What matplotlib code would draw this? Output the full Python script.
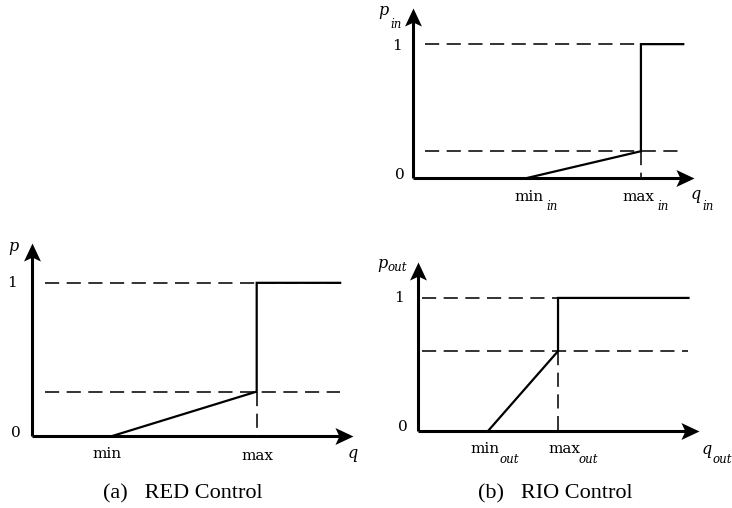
import numpy as np
import matplotlib
matplotlib.use('Agg')
from matplotlib import pyplot as plt
from matplotlib.path import Path

# RED drop curve: q thresholds and the drop probability reached at max
red_q = [2.5, 7.0, 9.6]        # min, max, end of line
red_p = [0.0, 0.29, 1.0]       # p at min, p at max, p after max

# RIO "in" profile
in_q = [3.5, 7.0, 8.3]
in_p = [0.0, 0.2, 1.0]

# RIO "out" profile
out_q = [2.2, 4.4, 8.5]
out_p = [0.0, 0.6, 1.0]

W, H = 732, 508
fig = plt.figure(figsize=(W / 100, H / 100), dpi=100)

SERIF = 'DejaVu Serif'
INK = 'k'
DASH = '#111111'

# stealth-like arrow heads (tip at the origin)
head_x = Path([(0, 0), (-1, 0.47), (-0.78, 0), (-1, -0.47), (0, 0)],
              [Path.MOVETO, Path.LINETO, Path.LINETO, Path.LINETO, Path.CLOSEPOLY])
head_y = Path([(0, 0), (-0.47, -1), (0, -0.78), (0.47, -1), (0, 0)],
              [Path.MOVETO, Path.LINETO, Path.LINETO, Path.LINETO, Path.CLOSEPOLY])


def px(v):
    # pixel offset -> points
    return v * 0.72


def lab(ax, s, xy, dx, dy, size=11, style='normal', ha='center', va='baseline'):
    ax.annotate(s, xy=xy, xytext=(px(dx), px(dy)), textcoords='offset points',
                ha=ha, va=va, fontsize=size, family=SERIF, style=style,
                annotation_clip=False)


def panel(ox, oy, wpx, hpx, qtip, ptip, q, p, dash_from):
    ax = fig.add_axes([ox / W, 1 - oy / H, wpx / W, hpx / H])
    ax.set_xlim(0, qtip)
    ax.set_ylim(0, ptip)
    ax.axis('off')
    sx = wpx / qtip
    sy = hpx / ptip

    # axes with arrow heads
    ax.plot([0, qtip - 12 / sx], [0, 0], color=INK, lw=2.2, solid_capstyle='butt', clip_on=False)
    ax.plot([0, 0], [0, ptip - 12 / sy], color=INK, lw=2.2, solid_capstyle='butt', clip_on=False)
    ax.plot([qtip], [0], marker=head_x, ms=26, color=INK, mew=0, clip_on=False)
    ax.plot([0], [ptip], marker=head_y, ms=26, color=INK, mew=0, clip_on=False)

    # dashed guide lines
    dash = dict(color=DASH, lw=1.2, ls=(0, (8.5, 4.5)), clip_on=False)
    ax.plot([dash_from, q[2]], [p[2], p[2]], **dash)
    ax.plot([dash_from, q[2]], [p[1], p[1]], **dash)
    ax.plot([q[1], q[1]], [p[1], p[0]], **dash)

    # drop probability curve
    ax.plot([q[0], q[1], q[1], q[2]], [p[0], p[1], p[2], p[2]],
            color=INK, lw=1.6, solid_joinstyle='miter', clip_on=False)
    return ax


# (a) RED
ax = panel(32, 436, 321, 193, 10.0, 1.26, red_q, red_p, 0.4)
lab(ax, '0', (0, 0), -16, 3, va='center')
lab(ax, '1', (0, red_p[2]), -20, 0, va='center')
lab(ax, 'min', (red_q[0], 0), -5, -22)
lab(ax, 'max', (red_q[1], 0), 1, -24)
lab(ax, 'q', (10.0, 0), 0, -22, size=11.5, style='italic')
lab(ax, 'p', (0, 1.26), -19, -8, size=11.5, style='italic')

# (b) RIO in
ax = panel(413, 178, 281, 170, 8.63, 1.27, in_q, in_p, 0.37)
lab(ax, '0', (0, 0), -13, 3, va='center')
lab(ax, '1', (0, in_p[2]), -16, -2, va='center')
lab(ax, 'min', (in_q[0], 0), 2, -23)
lab(ax, 'in', (in_q[0], 0), 19, -32, size=8.5, style='italic', ha='left')
lab(ax, 'max', (in_q[1], 0), -2, -23)
lab(ax, 'in', (in_q[1], 0), 16, -32, size=8.5, style='italic', ha='left')
lab(ax, 'q', (8.63, 0), 1.5, -21, size=11.5, style='italic')
lab(ax, 'in', (8.63, 0), 8, -32, size=8.5, style='italic', ha='left')
lab(ax, 'p', (0, 1.27), -30, -7, size=11.5, style='italic')
lab(ax, 'in', (0, 1.27), -23, -20, size=8.5, style='italic', ha='left')

# (b) RIO out
ax = panel(418, 431, 281, 169, 8.83, 1.27, out_q, out_p, 0.13)
lab(ax, '0', (0, 0), -15, 4, va='center')
lab(ax, '1', (0, out_p[2]), -19, 0, va='center')
lab(ax, 'min', (out_q[0], 0), -3, -22)
lab(ax, 'out', (out_q[0], 0), 11, -32, size=8.5, style='italic', ha='left')
lab(ax, 'max', (out_q[1], 0), 6, -22)
lab(ax, 'out', (out_q[1], 0), 20, -32, size=8.5, style='italic', ha='left')
lab(ax, 'q', (8.83, 0), 8, -23, size=11.5, style='italic')
lab(ax, 'out', (8.83, 0), 14, -32, size=8.5, style='italic', ha='left')
lab(ax, 'p', (0, 1.27), -35.5, -6, size=11.5, style='italic')
lab(ax, 'out', (0, 1.27), -30, -9, size=8.5, style='italic', ha='left')

# captions
fig.text(182.4 / W, 1 - 498.7 / H, '(a)   RED Control', ha='center', va='baseline',
         family='Liberation Serif', fontsize=16)
fig.text(555.5 / W, 1 - 498.7 / H, '(b)   RIO Control', ha='center', va='baseline',
         family='Liberation Serif', fontsize=16)

fig.savefig('out.png', dpi=100)
